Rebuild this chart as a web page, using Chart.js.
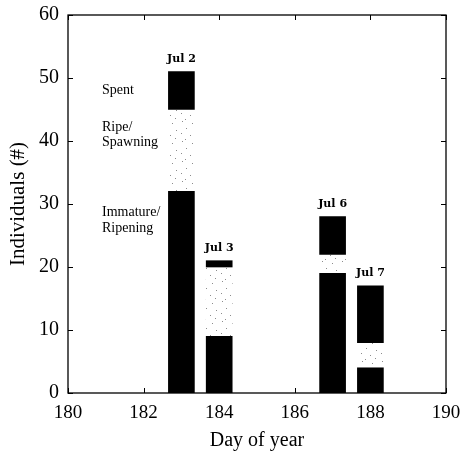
<!DOCTYPE html>
<html>
<head>
<meta charset="utf-8">
<script src="https://cdn.jsdelivr.net/npm/chart.js@4.4.1/dist/chart.umd.min.js"></script>
<style>
  html, body { margin: 0; padding: 0; background: #fff; }
  #chart { display: block; }
</style>
</head>
<body>
<canvas id="chart" width="462" height="456"></canvas>
<script>
// Fish counts by gonad stage, per sampling day
const days = [183, 184, 187, 188];
const dateLabels = ['Jul 2', 'Jul 3', 'Jul 6', 'Jul 7'];
const immatureRipening = [32, 9, 19, 4];
const ripeSpawning = [13, 11, 3, 4];
const spent = [6, 1, 6, 9];

const xTickValues = [180, 182, 184, 186, 188, 190];
const yTickValues = [0, 10, 20, 30, 40, 50, 60];

const serif = '"Liberation Serif", "Times New Roman", serif';

const canvas = document.getElementById('chart');
const ctx = canvas.getContext('2d');

// Sparse grey dots for the ripe/spawning stage
const makeStipple = () => {
  const tile = document.createElement('canvas');
  tile.width = 20;
  tile.height = 20;
  const g = tile.getContext('2d');
  g.fillStyle = '#8c8c8c';
  const dots = [[2, 1], [12, 3], [6, 8], [16, 10], [1, 13], [10, 15], [15, 18], [5, 19]];
  dots.forEach(([x, y]) => g.fillRect(x, y, 1, 1));
  return ctx.createPattern(tile, 'repeat');
};

const toPoints = (values) => values.map((v, i) => ({ x: days[i], y: v }));

// Box, inward tick marks, date labels and stage names
const annotations = {
  id: 'annotations',
  afterDatasetsDraw(chart) {
    const { ctx, chartArea: a, scales: { x, y } } = chart;
    ctx.save();
    ctx.strokeStyle = '#000';
    ctx.lineWidth = 1.3;
    ctx.strokeRect(a.left, a.top, a.right - a.left, a.bottom - a.top);

    ctx.lineWidth = 1;
    ctx.beginPath();
    xTickValues.forEach(v => {
      const px = Math.round(x.getPixelForValue(v)) + 0.5;
      ctx.moveTo(px, a.bottom); ctx.lineTo(px, a.bottom - 5);
      ctx.moveTo(px, a.top); ctx.lineTo(px, a.top + 5);
    });
    yTickValues.forEach(v => {
      const py = Math.round(y.getPixelForValue(v)) + 0.5;
      ctx.moveTo(a.left, py); ctx.lineTo(a.left + 5, py);
      ctx.moveTo(a.right, py); ctx.lineTo(a.right - 5, py);
    });
    ctx.stroke();

    // Date over each stacked bar
    ctx.fillStyle = '#000';
    ctx.font = 'bold 11px "DejaVu Serif", serif';
    ctx.textAlign = 'center';
    ctx.textBaseline = 'bottom';
    days.forEach((d, i) => {
      const total = immatureRipening[i] + ripeSpawning[i] + spent[i];
      ctx.fillText(dateLabels[i], x.getPixelForValue(d), y.getPixelForValue(total) - 7);
    });

    // Stage names beside the first bar
    ctx.font = '14px ' + serif;
    ctx.textAlign = 'left';
    ctx.textBaseline = 'middle';
    const lx = x.getPixelForValue(180.9);
    [['Spent', 48.1], ['Ripe/', 42.2], ['Spawning', 39.8], ['Immature/', 28.7], ['Ripening', 26.1]]
      .forEach(([t, v]) => ctx.fillText(t, lx, y.getPixelForValue(v)));
    ctx.restore();
  }
};

const stipple = makeStipple();

new Chart(ctx, {
  type: 'bar',
  data: {
    datasets: [
      { label: 'Immature/Ripening', data: toPoints(immatureRipening), backgroundColor: '#000' },
      { label: 'Ripe/Spawning', data: toPoints(ripeSpawning), backgroundColor: stipple },
      { label: 'Spent', data: toPoints(spent), backgroundColor: '#000' }
    ]
  },
  options: {
    responsive: false,
    animation: false,
    barThickness: 26,
    layout: { padding: { left: 0, right: 16, top: 15, bottom: 0 } },
    plugins: {
      legend: { display: false },
      tooltip: { enabled: false }
    },
    scales: {
      x: {
        type: 'linear',
        offset: false,
        stacked: true,
        min: 180,
        max: 190,
        afterBuildTicks: (s) => { s.ticks = xTickValues.map(v => ({ value: v })); },
        afterFit: (s) => { s.height = 63; s.paddingLeft = 0; s.paddingRight = 0; },
        grid: { display: false, drawTicks: false },
        border: { display: false },
        ticks: { color: '#000', padding: 9, font: { family: serif, size: 19 } },
        title: {
          display: true,
          text: 'Day of year',
          color: '#000',
          padding: { top: 0, bottom: 3 },
          font: { family: serif, size: 20 }
        }
      },
      y: {
        stacked: true,
        min: 0,
        max: 60,
        afterBuildTicks: (s) => { s.ticks = yTickValues.map(v => ({ value: v })); },
        afterFit: (s) => { s.width = 68; s.paddingTop = 0; s.paddingBottom = 0; },
        grid: { display: false, drawTicks: false },
        border: { display: false },
        ticks: { color: '#000', padding: 9, font: { family: serif, size: 20 } },
        title: {
          display: true,
          text: 'Individuals (#)',
          color: '#000',
          padding: { top: 6, bottom: 0 },
          font: { family: serif, size: 21 }
        }
      }
    }
  },
  plugins: [annotations]
});
</script>
</body>
</html>
